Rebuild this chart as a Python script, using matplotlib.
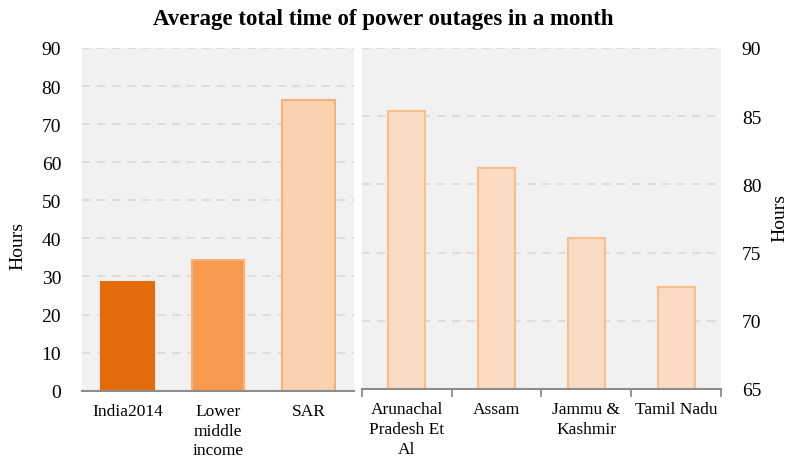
import numpy as np
import matplotlib.pyplot as plt

plt.rcParams['font.family'] = ['Liberation Serif', 'DejaVu Serif']

# --- data ---
left_labels = ["India2014", "Lower\nmiddle\nincome", "SAR"]
left_values = [28.6, 34.4, 76.3]
right_labels = ["Arunachal\nPradesh Et\nAl", "Assam", "Jammu &\nKashmir", "Tamil Nadu"]
right_values = [85.4, 81.2, 76.1, 72.5]

left_fill = ["#E36C0A", "#F79A4D", "#FBD2B0"]
left_edge = ["#E36C0A", "#F9B07A", "#F5B07C"]

fig = plt.figure(figsize=(7.91, 4.64), dpi=100)
ax1 = fig.add_axes([0.1037, 0.1558, 0.3439, 0.7386])
ax2 = fig.add_axes([0.4576, 0.1595, 0.4539, 0.7349])

for ax in (ax1, ax2):
    ax.set_facecolor("#F1F1F1")
    for s in ("top", "left", "right"):
        ax.spines[s].set_visible(False)
    ax.spines["bottom"].set_color("#8C8C8C")
    ax.spines["bottom"].set_linewidth(1.5)
    ax.yaxis.grid(True, color="#D9D9D9", linestyle=(0, (5, 4)), linewidth=1.2)
    ax.set_axisbelow(True)

# --- left panel ---
x1 = np.arange(len(left_values))
ax1.bar(x1, left_values, width=0.58, color=left_fill, edgecolor=left_edge, linewidth=1.5)
ax1.set_xlim(-0.5, len(left_values) - 0.5)
ax1.set_ylim(0, 90)
ax1.set_yticks(np.arange(0, 91, 10))
ax1.set_xticks(x1)
ax1.set_xticklabels(left_labels, fontsize=12.5, linespacing=1.3, va="top")
ax1.tick_params(axis="x", length=0, pad=9)
ax1.tick_params(axis="y", length=0, pad=15, labelsize=14)

# --- right panel ---
x2 = np.arange(len(right_values))
ax2.bar(x2, right_values, width=0.41, color="#FBDBC2", edgecolor="#F9BE8C", linewidth=1.5)
ax2.set_xlim(-0.5, len(right_values) - 0.5)
ax2.set_ylim(65, 90)
ax2.set_yticks(np.arange(65, 91, 5))
ax2.yaxis.tick_right()
ax2.set_xticks(x2)
ax2.set_xticklabels(right_labels, fontsize=12.5, linespacing=1.3, va="top")
ax2.set_xticks(np.arange(-0.5, len(right_values)), minor=True)
ax2.tick_params(axis="x", which="major", length=0, pad=9)
ax2.tick_params(axis="x", which="minor", length=6, width=1.3, color="#8C8C8C", direction="out")
ax2.tick_params(axis="y", length=0, pad=15, labelsize=14)

fig.text(0.022, 0.47, "Hours", rotation=90, fontsize=14, ha="center", va="center")
fig.text(0.986, 0.53, "Hours", rotation=90, fontsize=14, ha="center", va="center")
fig.text(0.484, 0.957, "Average total time of power outages in a month",
         fontsize=16.5, fontweight="bold", ha="center", va="center")

fig.savefig("out.png", dpi=100)
